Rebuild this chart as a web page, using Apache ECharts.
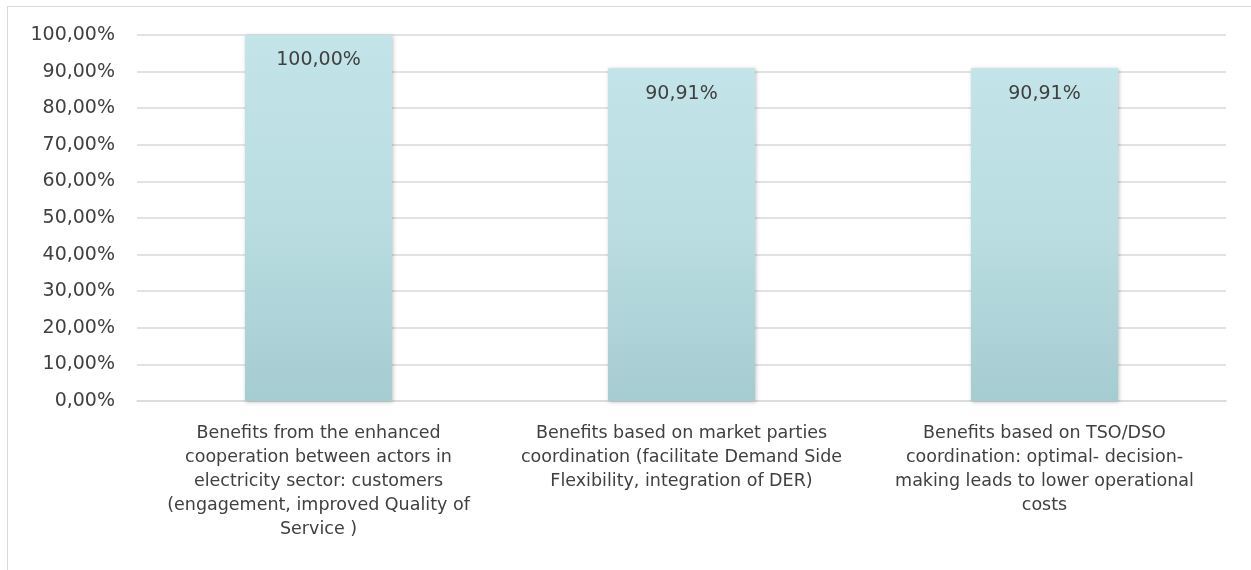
<!DOCTYPE html>
<html>
<head>
<meta charset="utf-8">
<script src="https://cdn.jsdelivr.net/npm/echarts@6/dist/echarts.min.js"></script>
<style>
html,body{margin:0;padding:0;background:#fff;}
#frame{position:absolute;left:7px;top:6px;width:1250px;height:570px;border-left:1px solid #d9d9d9;border-top:1px solid #d9d9d9;box-sizing:border-box;}
#chart{position:absolute;left:0;top:0;width:1251px;height:570px;}
</style>
</head>
<body>
<div id="frame"></div>
<div id="chart"></div>
<script>
const categories = [
  "Benefits from the enhanced\ncooperation between actors in\nelectricity sector: customers\n(engagement, improved Quality of\nService )",
  "Benefits based on market parties\ncoordination (facilitate Demand Side\nFlexibility, integration of DER)",
  "Benefits based on TSO/DSO\ncoordination: optimal- decision-\nmaking leads to lower operational\ncosts"
];
const values = [100.00, 90.91, 90.91];
const yTicks = { min: 0, max: 100, interval: 10 };

const fmt = v => v.toFixed(2).replace('.', ',') + '%';
const font = '"DejaVu Sans", "Noto Sans", sans-serif';

const chart = echarts.init(document.getElementById('chart'), null, {renderer: 'canvas'});
chart.setOption({
  animation: false,
  grid: { left: 137, right: 25, top: 35, bottom: 169, containLabel: false },
  xAxis: {
    type: 'category',
    data: categories,
    axisLine: { show: true, lineStyle: { color: '#d9d9d9', width: 1.5 } },
    axisTick: { show: false },
    axisLabel: { interval: 0, color: '#404040', fontSize: 17.5, fontFamily: font, lineHeight: 24, margin: 20, align: 'center' }
  },
  yAxis: {
    type: 'value',
    min: yTicks.min, max: yTicks.max, interval: yTicks.interval,
    axisLine: { show: false },
    axisTick: { show: false },
    splitLine: { lineStyle: { color: '#d9d9d9', width: 1.5 } },
    axisLabel: { formatter: v => fmt(v), color: '#404040', fontSize: 19, fontFamily: font, margin: 22 }
  },
  series: [{
    type: 'bar',
    data: values,
    barWidth: '40.5%',
    itemStyle: {
      color: new echarts.graphic.LinearGradient(0, 0, 0, 1, [
        { offset: 0, color: '#c3e4e8' },
        { offset: 0.5, color: '#b9dde1' },
        { offset: 1, color: '#a5ccd1' }
      ]),
      shadowColor: 'rgba(0,0,0,0.25)',
      shadowBlur: 4,
      shadowOffsetX: 1,
      shadowOffsetY: 1
    },
    label: {
      show: true,
      position: 'insideTop',
      distance: 16,
      formatter: p => fmt(p.value),
      color: '#404040',
      fontSize: 19,
      fontFamily: font
    }
  }]
});
</script>
</body>
</html>
